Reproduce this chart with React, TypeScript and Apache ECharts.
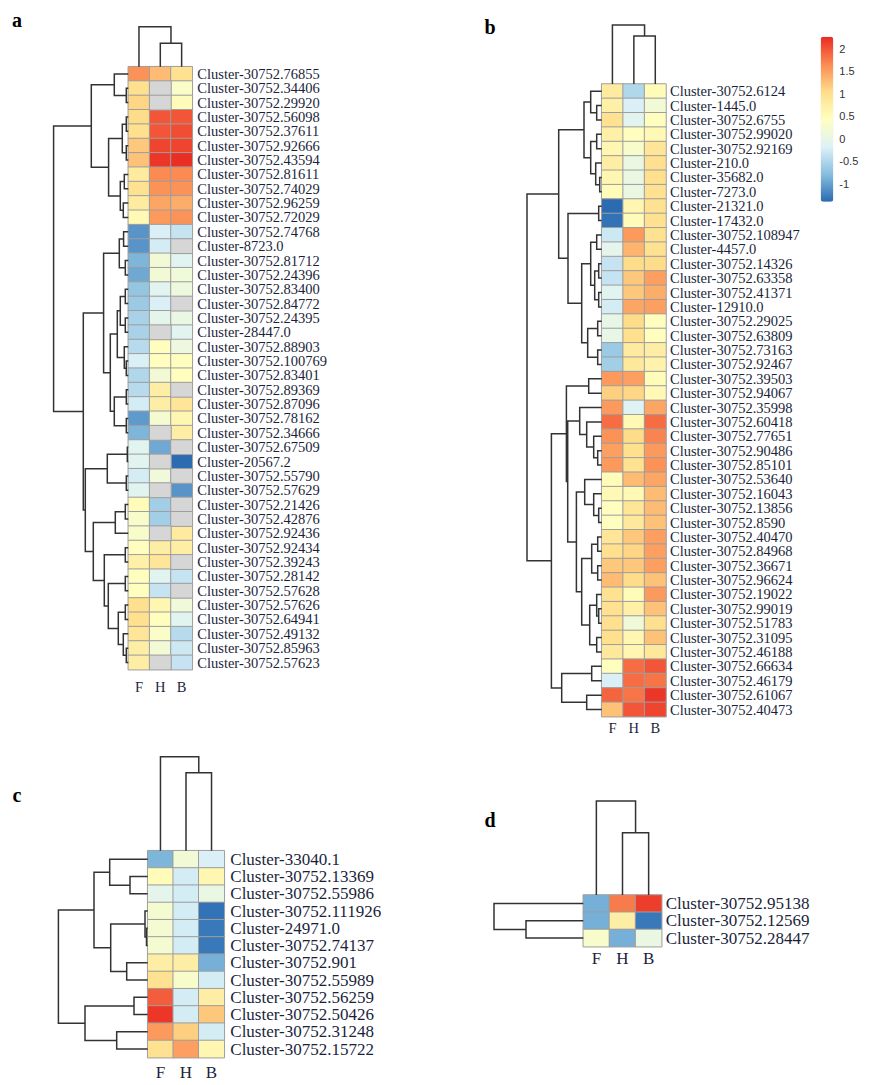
import React, { useEffect, useRef } from "react";
import * as echarts from "echarts";

// ---------------- data ----------------
const COLS = ["F", "H", "B"];

const ROWS_A = ["Cluster-30752.76855","Cluster-30752.34406","Cluster-30752.29920","Cluster-30752.56098","Cluster-30752.37611","Cluster-30752.92666","Cluster-30752.43594","Cluster-30752.81611","Cluster-30752.74029","Cluster-30752.96259","Cluster-30752.72029","Cluster-30752.74768","Cluster-8723.0","Cluster-30752.81712","Cluster-30752.24396","Cluster-30752.83400","Cluster-30752.84772","Cluster-30752.24395","Cluster-28447.0","Cluster-30752.88903","Cluster-30752.100769","Cluster-30752.83401","Cluster-30752.89369","Cluster-30752.87096","Cluster-30752.78162","Cluster-30752.34666","Cluster-30752.67509","Cluster-20567.2","Cluster-30752.55790","Cluster-30752.57629","Cluster-30752.21426","Cluster-30752.42876","Cluster-30752.92436","Cluster-30752.92434","Cluster-30752.39243","Cluster-30752.28142","Cluster-30752.57628","Cluster-30752.57626","Cluster-30752.64941","Cluster-30752.49132","Cluster-30752.85963","Cluster-30752.57623"];

// F, H, B (null = NA, drawn grey)
const VALUES_A: (number | null)[][] = [
  [1.6, 1.3, 0.95], [1.0, null, 0.35], [1.1, null, 0.5], [1.05, 2.0, 2.0], [1.0, 2.0, 2.05],
  [1.2, 2.1, 2.1], [1.25, 2.2, 2.25], [0.8, 1.65, 1.65], [0.95, 1.6, 1.6], [0.8, 1.45, 1.4],
  [0.55, 1.55, 1.6], [-1.1, -0.2, -0.35], [-1.1, -0.25, null], [-0.85, 0.2, -0.1], [-0.95, 0.2, 0.15],
  [-0.7, -0.1, 0.1], [-0.65, -0.2, null], [-0.55, -0.05, 0.05], [-0.55, null, -0.1], [-0.45, 0.45, 0.1],
  [-0.2, 0.45, 0.45], [-0.5, 0.2, 0.45], [-0.45, 0.75, null], [-0.25, 0.75, 0.9], [-1.05, 0.25, 0.6],
  [-0.85, null, 0.75], [-0.1, -0.95, null], [-0.1, null, -1.4], [-0.25, 0.15, null], [-0.1, null, -1.1],
  [0.5, -0.6, null], [0.3, -0.6, null], [0.3, null, 0.8], [0.45, 0.75, 0.75], [0.7, 0.9, null],
  [0.45, -0.1, -0.35], [0.45, -0.35, null], [1.0, 0.6, 0.15], [1.0, 0.45, -0.1], [0.9, 0.35, -0.45],
  [0.75, 0.2, -0.3], [0.75, null, -0.35],
];

const ROWS_B = ["Cluster-30752.6124","Cluster-1445.0","Cluster-30752.6755","Cluster-30752.99020","Cluster-30752.92169","Cluster-210.0","Cluster-35682.0","Cluster-7273.0","Cluster-21321.0","Cluster-17432.0","Cluster-30752.108947","Cluster-4457.0","Cluster-30752.14326","Cluster-30752.63358","Cluster-30752.41371","Cluster-12910.0","Cluster-30752.29025","Cluster-30752.63809","Cluster-30752.73163","Cluster-30752.92467","Cluster-30752.39503","Cluster-30752.94067","Cluster-30752.35998","Cluster-30752.60418","Cluster-30752.77651","Cluster-30752.90486","Cluster-30752.85101","Cluster-30752.53640","Cluster-30752.16043","Cluster-30752.13856","Cluster-30752.8590","Cluster-30752.40470","Cluster-30752.84968","Cluster-30752.36671","Cluster-30752.96624","Cluster-30752.19022","Cluster-30752.99019","Cluster-30752.51783","Cluster-30752.31095","Cluster-30752.46188","Cluster-30752.66634","Cluster-30752.46179","Cluster-30752.61067","Cluster-30752.40473"];

const VALUES_B: (number | null)[][] = [
  [0.8, -0.5, 0.5], [0.7, -0.2, 0.2], [0.95, -0.1, 0.45], [0.7, 0.45, 0.55], [0.6, 0.3, 0.9],
  [0.75, 0.05, 1.0], [0.6, 0.05, 1.0], [0.5, 0.05, 0.95], [-1.4, 0.6, 0.95], [-1.35, 0.5, 0.95],
  [-0.3, 1.55, 0.95], [-0.05, 1.35, 0.95], [-0.35, 1.05, 1.05], [-0.35, 1.2, 1.5], [-0.1, 1.2, 1.4],
  [-0.25, 1.45, 1.5], [0.0, 1.05, 0.45], [0.0, 1.0, 0.45], [-0.65, 0.8, 0.75], [-0.6, 0.85, 0.65],
  [1.55, 1.5, 0.5], [1.15, 1.1, 0.55], [1.55, -0.15, 1.45], [1.85, 0.55, 1.85], [1.6, 1.05, 1.7],
  [1.5, 1.0, 1.55], [1.55, 0.95, 1.6], [0.5, 1.3, 1.45], [0.55, 0.55, 1.3], [0.45, 0.9, 1.3],
  [0.45, 0.85, 1.25], [0.9, 1.2, 1.5], [1.0, 1.1, 1.5], [1.2, 1.2, 1.5], [1.3, 1.05, 1.25],
  [0.95, 0.5, 1.55], [0.95, 0.7, 1.25], [1.0, 0.15, 1.0], [1.0, 0.6, 1.25], [0.85, 0.6, 0.85],
  [0.45, 1.85, 2.0], [-0.2, 1.85, 1.8], [1.9, 1.8, 2.2], [1.25, 2.0, 2.1],
];

const ROWS_C = ["Cluster-33040.1","Cluster-30752.13369","Cluster-30752.55986","Cluster-30752.111926","Cluster-24971.0","Cluster-30752.74137","Cluster-30752.901","Cluster-30752.55989","Cluster-30752.56259","Cluster-30752.50426","Cluster-30752.31248","Cluster-30752.15722"];

const VALUES_C: (number | null)[][] = [
  [-0.85, 0.2, -0.2], [0.5, -0.25, 0.6], [-0.05, -0.25, 0.05], [0.25, -0.25, -1.35],
  [0.25, -0.25, -1.3], [0.25, -0.25, -1.3], [0.75, 0.75, -0.9], [0.95, 0.3, -0.25],
  [1.95, -0.25, 0.75], [2.2, -0.25, 1.2], [1.55, 1.15, -0.25], [0.95, 1.5, 0.6],
];

const ROWS_D = ["Cluster-30752.95138","Cluster-30752.12569","Cluster-30752.28447"];

const VALUES_D: (number | null)[][] = [
  [-0.9, 1.75, 2.15], [-0.9, 0.75, -1.3], [0.3, -0.9, 0.05],
];

// dendrograms: leaf = row/column index, node = [merge height, left, right]
type Tree = number | [number, Tree, Tree];

const ROW_TREE_A: Tree = [74.7,
  [37, [14, 0, [2, 1, 2]], [19.7, [6, [2, 3, 4], [2, 5, 6]], [8, [4, 7, 8], [5, 9, 10]]]],
  [45,
    [24.7, [9, [4.7, 11, 12], [3, 13, 14]], [18, [11, [8, [3, 15, 16], [3, 17, 18]], [4, 19, [2, 20, 21]]], [14, [2, 22, 23], [2, 24, 25]]]],
    [43, [21, [1, 26, 27], [2, 28, 29]], [35, [13, [3, 30, 31], 32], [24, [3, 33, 34], [20, [3, 35, 36], [10, [3, 37, 38], [5, 39, [2, 40, 41]]]]]]],
  ],
];
const COL_TREE_A: Tree = [40, 0, [23.4, 1, 2]];

const ROW_TREE_B: Tree = [74.7,
  [43,
    [17.7, [11, 0, [5, 1, 2]], [11, [5, 3, 4], [6, 5, [2, 6, 7]]]],
    [33.7, [3, 8, 9], [20, [11, [5, 10, 11], [7, [3, 12, 13], [3, 14, 15]]], [14, [4, 16, 17], [4, 18, 19]]]],
  ],
  [50.3,
    [35.3, [13, 20, 21], [34, [22, 22, [15, 23, [8, 24, [4, 25, 26]]]], [25.3, [17, 27, [8, 28, [3, 29, 30]]], [20, [10, [4, 31, 32], [4, 33, 34]], [12, [5, 35, [3, 36, 37]], [5, 38, 39]]]]]],
    [40, [10, 40, 41], [15, 42, 43]],
  ],
];
const COL_TREE_B: Tree = [59, 0, [48, 1, 2]];

const ROW_TREE_C: Tree = [89.3, [53.7, [38, 0, [17.7, 1, 2]], [37, [2.7, 3, [1.2, 4, 5]], [21, 6, 7]]], [62.7, [13.7, 8, 9], [31, 10, 11]]];
const COL_TREE_C: Tree = [94, 0, [78, 1, 2]];

const ROW_TREE_D: Tree = [89.3, 0, [57.3, 1, 2]];
const COL_TREE_D: Tree = [94, 0, [62.3, 1, 2]];

const COLORBAR_TICKS = [-1, -0.5, 0, 0.5, 1, 1.5, 2];
const SCALE_MIN = -1.4;
const SCALE_MAX = 2.27;

// ---------------- styles / layout ----------------
const PALETTE = ["#2a6bb2", "#87bedf", "#def2f7", "#ffffbf", "#fedd8a", "#fb8a52", "#ea2b22"];
const NA_COLOR = "#d6d6d6";
const BORDER = "#9e9e9e";
const TEXT = "#1b1f3b";
const SERIF = "Liberation Serif";
const LINE = { color: "#333333", width: 1.5, opacity: 1 };

const PANELS = [
  { letter: "a", lx: 17, ly: 20, rows: ROWS_A, values: VALUES_A, rowTree: ROW_TREE_A, colTree: COL_TREE_A,
    heat: { left: 128.3, top: 66.7, width: 64, height: 603 }, font: 14.5, rowMargin: 5, colMargin: 10 },
  { letter: "b", lx: 490, ly: 27, rows: ROWS_B, values: VALUES_B, rowTree: ROW_TREE_B, colTree: COL_TREE_B,
    heat: { left: 601.7, top: 84, width: 64.3, height: 632.7 }, font: 14.5, rowMargin: 4, colMargin: 4 },
  { letter: "c", lx: 17, ly: 795, rows: ROWS_C, values: VALUES_C, rowTree: ROW_TREE_C, colTree: COL_TREE_C,
    heat: { left: 147.7, top: 850.7, width: 76.6, height: 207 }, font: 17, rowMargin: 6, colMargin: 6 },
  { letter: "d", lx: 490, ly: 820, rows: ROWS_D, values: VALUES_D, rowTree: ROW_TREE_D, colTree: COL_TREE_D,
    heat: { left: 583.3, top: 895, width: 78.4, height: 51.7 }, font: 17, rowMargin: 4, colMargin: 3 },
];

function layoutTree(t: Tree) {
  const segs: number[][][] = [];
  const rec = (n: Tree): { pos: number; h: number } => {
    if (typeof n === "number") return { pos: n + 0.5, h: 0 };
    const [h, l, r] = n;
    const a = rec(l);
    const b = rec(r);
    segs.push([[a.h, a.pos], [h, a.pos], [h, b.pos], [b.h, b.pos]]);
    return { pos: (a.pos + b.pos) / 2, h };
  };
  const root = rec(t);
  return { rootH: root.h, segs };
}

function buildOption() {
  const grid: any[] = [];
  const xAxis: any[] = [];
  const yAxis: any[] = [];
  const series: any[] = [];
  const heatIdx: number[] = [];
  const naIdx: number[] = [];
  const addGrid = (g: any, xa: any, ya: any) => {
    const i = grid.length;
    grid.push({ ...g, containLabel: false });
    xAxis.push({ ...xa, gridIndex: i });
    yAxis.push({ ...ya, gridIndex: i });
    return i;
  };
  const hidden = { show: false };

  PANELS.forEach((p) => {
    const { left, top, width, height } = p.heat;
    const hi = addGrid(
      { left, top, width, height },
      { type: "category", data: COLS, position: "bottom", axisLine: hidden, axisTick: hidden, splitLine: hidden,
        axisLabel: { margin: p.colMargin, fontSize: p.font, fontFamily: SERIF, color: TEXT } },
      { type: "category", data: p.rows, inverse: true, position: "right", axisLine: hidden, axisTick: hidden, splitLine: hidden,
        axisLabel: { interval: 0, margin: p.rowMargin, fontSize: p.font, fontFamily: SERIF, color: TEXT } }
    );
    const cells: number[][] = [];
    const na: number[][] = [];
    p.values.forEach((row, r) => row.forEach((v, c) => (v === null ? na.push([c, r, 0]) : cells.push([c, r, v]))));
    heatIdx.push(series.length);
    series.push({ type: "heatmap", xAxisIndex: hi, yAxisIndex: hi, data: cells,
      itemStyle: { borderColor: BORDER, borderWidth: 1 }, emphasis: { disabled: true }, silent: true });
    if (na.length) {
      naIdx.push(series.length);
      series.push({ type: "heatmap", xAxisIndex: hi, yAxisIndex: hi, data: na,
        itemStyle: { borderColor: BORDER, borderWidth: 1 }, emphasis: { disabled: true }, silent: true });
    }

    const rt = layoutTree(p.rowTree);
    const ri = addGrid(
      { left: left - rt.rootH, top, width: rt.rootH, height },
      { type: "value", min: 0, max: rt.rootH, inverse: true, show: false },
      { type: "value", min: 0, max: p.rows.length, inverse: true, show: false }
    );
    series.push({ type: "lines", coordinateSystem: "cartesian2d", xAxisIndex: ri, yAxisIndex: ri, polyline: true,
      clip: false, silent: true, data: rt.segs.map((s) => ({ coords: s })), lineStyle: LINE });

    const ct = layoutTree(p.colTree);
    const ci = addGrid(
      { left, top: top - ct.rootH, width, height: ct.rootH },
      { type: "value", min: 0, max: COLS.length, show: false },
      { type: "value", min: 0, max: ct.rootH, show: false }
    );
    series.push({ type: "lines", coordinateSystem: "cartesian2d", xAxisIndex: ci, yAxisIndex: ci, polyline: true,
      clip: false, silent: true, data: ct.segs.map((s) => ({ coords: s.map(([h, pos]) => [pos, h]) })), lineStyle: LINE });
  });

  // colour key axis
  addGrid(
    { left: 833.3, top: 36.7, width: 1, height: 165 },
    { type: "value", min: 0, max: 1, show: false },
    { type: "value", min: SCALE_MIN, max: SCALE_MAX, position: "right", axisLine: hidden, axisTick: hidden, splitLine: hidden,
      axisLabel: { customValues: COLORBAR_TICKS, margin: 5, fontSize: 11, fontFamily: "Liberation Sans", color: "#333" } }
  );

  return {
    animation: false,
    backgroundColor: "#ffffff",
    grid, xAxis, yAxis, series,
    visualMap: [
      {
        type: "continuous", min: SCALE_MIN, max: SCALE_MAX, seriesIndex: heatIdx, calculable: false,
        orient: "vertical", left: 820.7, top: 36.7, itemWidth: 12.6, itemHeight: 165, padding: 0,
        inRange: { color: PALETTE },
      },
      {
        type: "continuous", show: false, min: -1, max: 1, seriesIndex: naIdx,
        inRange: { color: [NA_COLOR, NA_COLOR] },
      },
    ],
    graphic: PANELS.map((p) => ({
      type: "text", x: p.lx, y: p.ly,
      style: { text: p.letter, fontSize: 20, fontWeight: "bold", fontFamily: SERIF, fill: "#000", align: "center", verticalAlign: "middle" },
    })),
  };
}

export default function App() {
  const ref = useRef<HTMLDivElement>(null);
  useEffect(() => {
    document.body.style.margin = "0";
    if (!ref.current) return;
    const chart = echarts.init(ref.current, null, { renderer: "svg" });
    chart.setOption(buildOption() as any);
    return () => chart.dispose();
  }, []);
  return <div ref={ref} style={{ width: 870, height: 1085 }} />;
}
